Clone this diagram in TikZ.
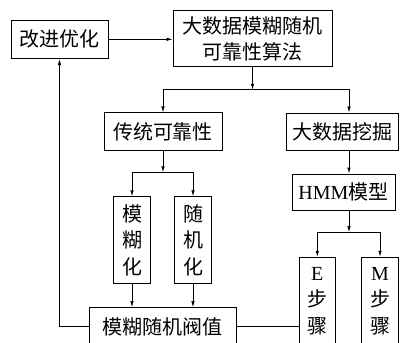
\documentclass[tikz,border=0pt]{standalone}
\usepackage{fontspec}
\setmainfont{Liberation Serif}
\newfontfamily\cjk{Noto Sans CJK SC}
\newcommand\latn[1]{{\rmfamily #1}}
\usetikzlibrary{arrows.meta,calc}
\begin{document}
\begin{tikzpicture}[x=1pt,y=-1pt,
 box/.style={draw,line width=0.9pt,inner sep=0pt,align=center,font=\fontsize{20}{26.5}\selectfont\cjk},
 arr/.style={line width=0.7pt,-{Latex[length=6pt,width=3.5pt]}},
 ln/.style={line width=0.7pt}]
\useasboundingbox (0,0) rectangle (405,343);
\clip (0,0) rectangle (405,343);
\node[box,minimum width=97pt,minimum height=38.7pt] (gj) at (59.5,39.3) {改进优化};
\node[box,minimum width=159pt,minimum height=56pt] (top) at (252.5,38.7) {大数据模糊随机\\可靠性算法};
\node[box,minimum width=118pt,minimum height=37.3pt] (ct) at (163,131.5) {传统可靠性};
\node[box,minimum width=112pt,minimum height=37pt] (dm) at (342,131.5) {大数据挖掘};
\node[box,minimum width=103pt,minimum height=36.7pt] (hmm) at (343.5,192.3) {\latn{HMM}模型};
\node[box,minimum width=37.3pt,minimum height=86.6pt] (mh) at (132,240) {模\\糊\\化};
\node[box,minimum width=37.3pt,minimum height=86.6pt] (sj) at (193,240) {随\\机\\化};
\node[box,minimum width=147pt,minimum height=38pt] (th) at (162.5,326.6) {模糊随机阀值};
\node[box,minimum width=36.7pt,minimum height=88pt] (E) at (317.3,301.2) {\latn{E}\\步\\骤};
\node[box,minimum width=36.7pt,minimum height=88pt] (M) at (380,301.2) {\latn{M}\\步\\骤};
% junctions
\coordinate (j1) at ($(top.south)!0!(top.south)+(0,22.6)$);
\coordinate (dmin) at ($(dm.north)+(7,0)$);
\coordinate (dmout) at ($(dm.south)+(7,0)$);
\coordinate (hmmin) at ($(hmm.north)+(5.5,0)$);
\coordinate (hmmout) at ($(hmm.south)+(5.5,0)$);
\coordinate (j2) at ($(ct.south)+(0,21.7)$);
\coordinate (j3) at ($(hmmout)+(0,21)$);
% connectors
\draw[arr] (gj.east) -- (gj.east -| top.west);
\draw[arr] (top.south) -- (j1);
\draw[arr] (j1) -| (ct.north);
\draw[arr] (j1) -| (dmin);
\draw[arr] (dmout) -- (hmmin);
\draw[arr] (ct.south) -- (j2);
\draw[arr] (j2) -| (mh.north);
\draw[arr] (j2) -| (sj.north);
\draw[arr] (mh.south) -- (mh.south |- th.north);
\draw[arr] (sj.south) -- (sj.south |- th.north);
\draw[arr] (hmmout) -- (j3);
\draw[arr] (j3) -| (E.north);
\draw[arr] (j3) -| (M.north);
\draw[arr] (th.west) -| (gj.south);
\draw[ln] (th.east) -- (th.east -| E.west);
\end{tikzpicture}
\end{document}
